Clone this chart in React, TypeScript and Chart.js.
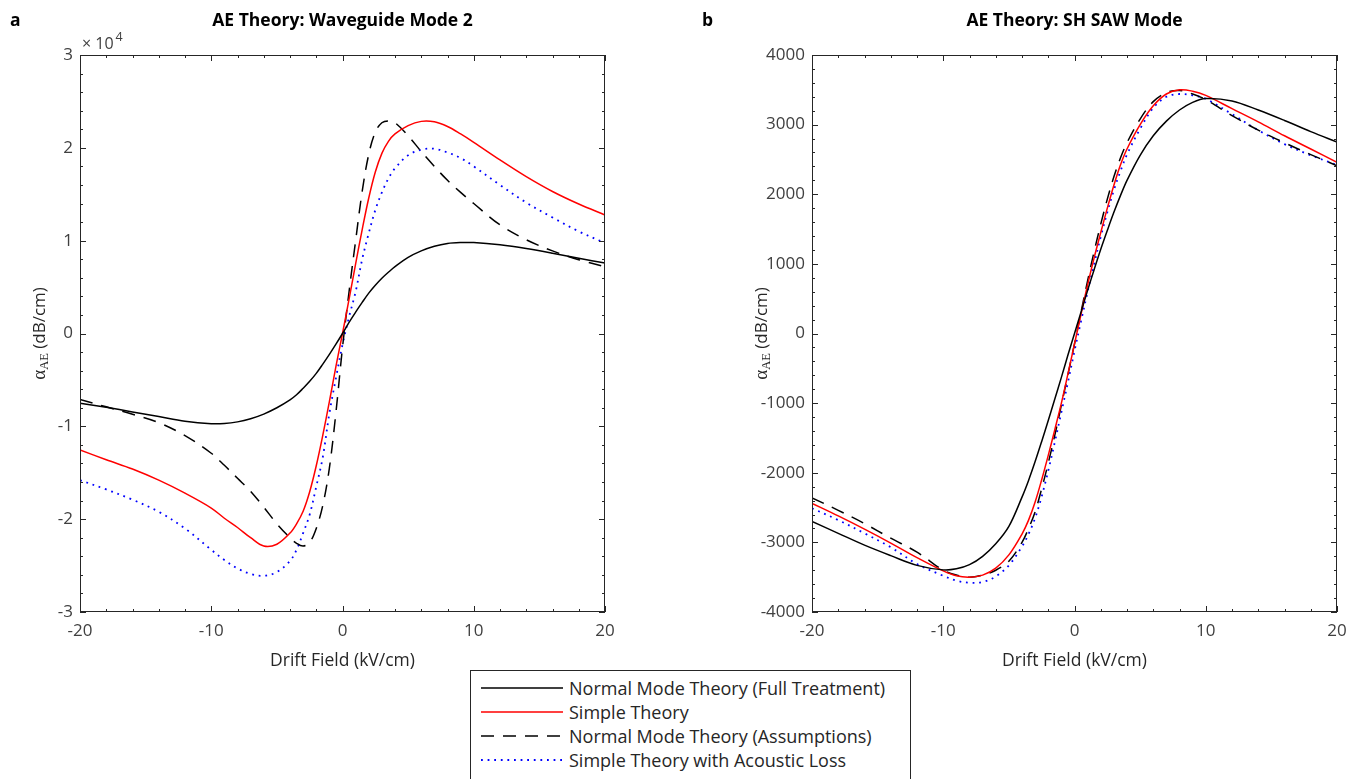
import React, { useEffect, useRef } from "react";
import { Chart, registerables } from "chart.js";

Chart.register(...registerables);

// Drift field grid (kV/cm)
const driftField = [-20, -18, -16, -14, -12, -10, -9, -8, -7, -6, -5, -4, -3.5, -3, -2.5, -2, -1.5, -1, -0.5, 0, 0.5, 1, 1.5, 2, 2.5, 3, 3.5, 4, 5, 6, 7, 8, 9, 10, 12, 14, 16, 18, 20];

// Panel a: Waveguide Mode 2 (dB/cm)
const waveguideFull = [-7500, -7950, -8450, -8950, -9450, -9720, -9700, -9520, -9180, -8680, -8000, -7150, -6600, -5900, -5150, -4300, -3300, -2250, -1150, 0, 1200, 2300, 3350, 4350, 5200, 5950, 6600, 7200, 8200, 8900, 9400, 9700, 9800, 9800, 9550, 9150, 8650, 8100, 7600];
const waveguideSimple = [-12550, -13600, -14600, -15800, -17200, -18800, -19900, -20900, -22000, -22900, -22700, -21500, -20500, -19150, -17050, -14250, -10950, -7350, -3550, 0, 3700, 7500, 11200, 14600, 17400, 19400, 20700, 21500, 22400, 22850, 22800, 22300, 21500, 20600, 18700, 16900, 15300, 13950, 12770];
const waveguideAssump = [-7100, -7900, -8700, -9600, -11000, -12900, -14200, -15600, -17000, -18700, -20500, -22000, -22600, -22900, -22500, -21000, -18500, -14500, -8500, -1500, 4500, 10000, 15300, 19300, 21700, 22700, 22900, 22700, 21300, 19600, 18000, 16500, 15200, 14000, 11700, 10100, 8900, 7950, 7200];
const waveguideLoss = [-15800, -16800, -17900, -19200, -21000, -23300, -24400, -25300, -25900, -26100, -25700, -24500, -23300, -21500, -19500, -16500, -13300, -8600, -4800, -1200, 1800, 4500, 8000, 10800, 13300, 15200, 16700, 17800, 19200, 19800, 19900, 19500, 18900, 18000, 16000, 14100, 12500, 11000, 9750];

// Panel b: SH SAW Mode (dB/cm)
const sawFull = [-2700, -2870, -3040, -3190, -3330, -3395, -3380, -3320, -3200, -3020, -2770, -2350, -2110, -1840, -1550, -1250, -940, -630, -310, 0, 310, 620, 920, 1210, 1480, 1740, 1980, 2200, 2560, 2840, 3050, 3210, 3320, 3375, 3340, 3210, 3060, 2900, 2750];
const sawSimple = [-2440, -2620, -2810, -3010, -3220, -3410, -3480, -3500, -3470, -3370, -3180, -2880, -2680, -2420, -2100, -1750, -1380, -1000, -580, -150, 280, 700, 1090, 1450, 1800, 2130, 2420, 2650, 3000, 3270, 3440, 3500, 3480, 3420, 3230, 3040, 2840, 2650, 2460];
const sawAssump = [-2360, -2540, -2730, -2940, -3140, -3400, -3470, -3500, -3470, -3400, -3270, -3000, -2800, -2560, -2230, -1860, -1460, -1030, -590, -150, 310, 760, 1180, 1570, 1930, 2250, 2520, 2740, 3080, 3330, 3460, 3490, 3440, 3360, 3130, 2920, 2740, 2570, 2410];
const sawLoss = [-2510, -2680, -2870, -3070, -3310, -3480, -3550, -3580, -3570, -3490, -3330, -3060, -2880, -2650, -2340, -1970, -1560, -1130, -700, -250, 180, 600, 1000, 1390, 1740, 2060, 2330, 2570, 2940, 3240, 3400, 3440, 3420, 3370, 3150, 2920, 2720, 2560, 2420];

const seriesNames = [
  "Normal Mode Theory (Full Treatment)",
  "Simple Theory",
  "Normal Mode Theory (Assumptions)",
  "Simple Theory with Acoustic Loss",
];

const SANS = '"Open Sans", "Noto Sans", sans-serif';
const SERIF = '"Liberation Serif", "DejaVu Serif", serif';
const AXIS = "#262626";
const TEXT = "#404040";

const lineStyles = [
  { color: "#000000", width: 1.5, dash: [] as number[] },
  { color: "#ff0000", width: 1.5, dash: [] as number[] },
  { color: "#000000", width: 1.5, dash: [13, 9] },
  { color: "#0000ff", width: 1.8, dash: [1.8, 4.8] },
];

function makeDatasets(series: number[][]) {
  return series.map((arr, k) => ({
    label: seriesNames[k],
    data: driftField.map((x, i) => ({ x, y: arr[i] })),
    borderColor: lineStyles[k].color,
    borderWidth: lineStyles[k].width,
    borderDash: lineStyles[k].dash,
    pointRadius: 0,
    fill: false,
    tension: 0.35,
  }));
}

type PanelCfg = {
  letter: string;
  title: string;
  yMin: number;
  yMax: number;
  yStep: number;
  yMinor: number;
  yLabel: (v: number) => string;
  exponent: boolean;
  yTitleX: number;
  letterX: number;
};

function decorPlugin(cfg: PanelCfg) {
  return {
    id: "decor" + cfg.letter,
    afterDatasetsDraw(chart: any) {
      const { ctx, chartArea: a, scales } = chart;
      const xs = scales.x;
      const ys = scales.y;
      ctx.save();
      ctx.strokeStyle = AXIS;
      ctx.lineWidth = 1;
      ctx.strokeRect(a.left + 0.5, a.top + 0.5, a.right - a.left - 1, a.bottom - a.top - 1);
      ctx.beginPath();
      for (let v = -20; v <= 20; v += 2) {
        const px = Math.round(xs.getPixelForValue(v)) + 0.5;
        const len = v % 10 === 0 ? 6 : 3;
        ctx.moveTo(px, a.bottom);
        ctx.lineTo(px, a.bottom - len);
        ctx.moveTo(px, a.top);
        ctx.lineTo(px, a.top + len);
      }
      const nMinor = Math.round((cfg.yMax - cfg.yMin) / cfg.yMinor);
      for (let i = 0; i <= nMinor; i++) {
        const v = cfg.yMin + i * cfg.yMinor;
        const py = Math.round(ys.getPixelForValue(v)) + 0.5;
        const isMajor = Math.abs(Math.round(v / cfg.yStep) * cfg.yStep - v) < 1e-6;
        const len = isMajor ? 6 : 3;
        ctx.moveTo(a.left, py);
        ctx.lineTo(a.left + len, py);
        ctx.moveTo(a.right, py);
        ctx.lineTo(a.right - len, py);
      }
      ctx.stroke();

      ctx.fillStyle = "#000";
      ctx.textBaseline = "middle";
      ctx.font = "bold 17.5px " + SANS;
      ctx.textAlign = "center";
      ctx.fillText(cfg.title, (a.left + a.right) / 2, 21);
      ctx.textAlign = "left";
      ctx.fillText(cfg.letter, cfg.letterX, 21);

      ctx.fillStyle = AXIS;
      ctx.font = "17.5px " + SANS;
      ctx.textAlign = "center";
      ctx.fillText("Drift Field (kV/cm)", (a.left + a.right) / 2, 661);

      const parts = [
        { t: "α", f: "19px " + SERIF, dy: 0 },
        { t: "AE", f: "12.5px " + SERIF, dy: 4.5 },
        { t: " (dB/cm)", f: "17px " + SANS, dy: 0 },
      ];
      let total = 0;
      const widths = parts.map((p) => {
        ctx.font = p.f;
        const w = ctx.measureText(p.t).width;
        total += w;
        return w;
      });
      ctx.save();
      ctx.translate(cfg.yTitleX, (a.top + a.bottom) / 2);
      ctx.rotate(-Math.PI / 2);
      ctx.textAlign = "left";
      let cx = -total / 2;
      parts.forEach((p, i) => {
        ctx.font = p.f;
        ctx.fillText(p.t, cx, p.dy);
        cx += widths[i];
      });
      ctx.restore();

      if (cfg.exponent) {
        ctx.fillStyle = TEXT;
        ctx.textAlign = "left";
        ctx.textBaseline = "alphabetic";
        ctx.font = "16px " + SANS;
        ctx.fillText("×", a.left + 2, 49);
        const w1 = ctx.measureText("× ").width;
        ctx.fillText("10", a.left + 2 + w1, 49);
        const w2 = ctx.measureText("10").width;
        ctx.font = "12.5px " + SANS;
        ctx.fillText("4", a.left + 4 + w1 + w2, 41);
      }
      ctx.restore();
    },
  };
}

function makeConfig(series: number[][], cfg: PanelCfg, yAxisWidth: number, padRight: number) {
  return {
    type: "line" as const,
    data: { datasets: makeDatasets(series) },
    options: {
      responsive: false,
      maintainAspectRatio: false,
      animation: false as const,
      events: [] as any[],
      layout: { padding: { top: 55, right: padRight, bottom: 0, left: 0 } },
      plugins: {
        legend: { display: false },
        tooltip: { enabled: false },
        title: { display: false },
      },
      scales: {
        x: {
          type: "linear" as const,
          min: -20,
          max: 20,
          ticks: {
            stepSize: 10,
            color: TEXT,
            font: { family: SANS, size: 17 },
            padding: 9,
            maxRotation: 0,
            autoSkip: false,
          },
          grid: { display: false, drawTicks: false },
          border: { display: false },
          afterFit: (s: any) => {
            s.height = 88;
          },
        },
        y: {
          type: "linear" as const,
          min: cfg.yMin,
          max: cfg.yMax,
          ticks: {
            stepSize: cfg.yStep,
            color: TEXT,
            font: { family: SANS, size: 17 },
            padding: 7,
            callback: (v: any) => cfg.yLabel(Number(v)),
          },
          grid: { display: false, drawTicks: false },
          border: { display: false },
          afterFit: (s: any) => {
            s.width = yAxisWidth;
          },
        },
      },
    },
    plugins: [decorPlugin(cfg)],
  };
}

const panelA: PanelCfg = {
  letter: "a",
  title: "AE Theory: Waveguide Mode 2",
  yMin: -30000,
  yMax: 30000,
  yStep: 10000,
  yMinor: 2000,
  yLabel: (v) => String(Math.round(v / 10000)),
  exponent: true,
  yTitleX: 40,
  letterX: 10,
};

const panelB: PanelCfg = {
  letter: "b",
  title: "AE Theory: SH SAW Mode",
  yMin: -4000,
  yMax: 4000,
  yStep: 1000,
  yMinor: 200,
  yLabel: (v) => String(Math.round(v)),
  exponent: false,
  yTitleX: 72,
  letterX: 12,
};

function Legend() {
  const rows = seriesNames.map((name, k) => {
    const st = lineStyles[k];
    return (
      <div key={k} style={{ display: "flex", alignItems: "center", height: 24 }}>
        <svg width={84} height={24} style={{ marginLeft: 9, flex: "none" }}>
          <line
            x1={1}
            y1={12}
            x2={83}
            y2={12}
            stroke={st.color}
            strokeWidth={st.width}
            strokeDasharray={st.dash.length ? st.dash.join(" ") : undefined}
          />
        </svg>
        <span style={{ marginLeft: 5, fontFamily: SANS, fontSize: 18, color: AXIS, whiteSpace: "nowrap", lineHeight: "24px" }}>{name}</span>
      </div>
    );
  });
  return (
    <div
      style={{
        position: "absolute",
        left: 470,
        top: 670,
        width: 441,
        height: 120,
        border: "1px solid #262626",
        boxSizing: "border-box",
        background: "#fff",
        paddingTop: 5,
      }}
    >
      {rows}
    </div>
  );
}

export default function App() {
  const refA = useRef<HTMLCanvasElement | null>(null);
  const refB = useRef<HTMLCanvasElement | null>(null);

  useEffect(() => {
    const ca = new Chart(
      refA.current as HTMLCanvasElement,
      makeConfig([waveguideFull, waveguideSimple, waveguideAssump, waveguideLoss], panelA, 80, 85) as any
    );
    const cb = new Chart(
      refB.current as HTMLCanvasElement,
      makeConfig([sawFull, sawSimple, sawAssump, sawLoss], panelB, 122, 20) as any
    );
    return () => {
      ca.destroy();
      cb.destroy();
    };
  }, []);

  return (
    <div style={{ position: "absolute", left: 0, top: 0, width: 1357, height: 779, overflow: "hidden", background: "#fff" }}>
      <canvas ref={refA} width={690} height={700} style={{ position: "absolute", left: 0, top: 0, width: 690, height: 700 }} />
      <canvas ref={refB} width={667} height={700} style={{ position: "absolute", left: 690, top: 0, width: 667, height: 700 }} />
      <Legend />
    </div>
  );
}
